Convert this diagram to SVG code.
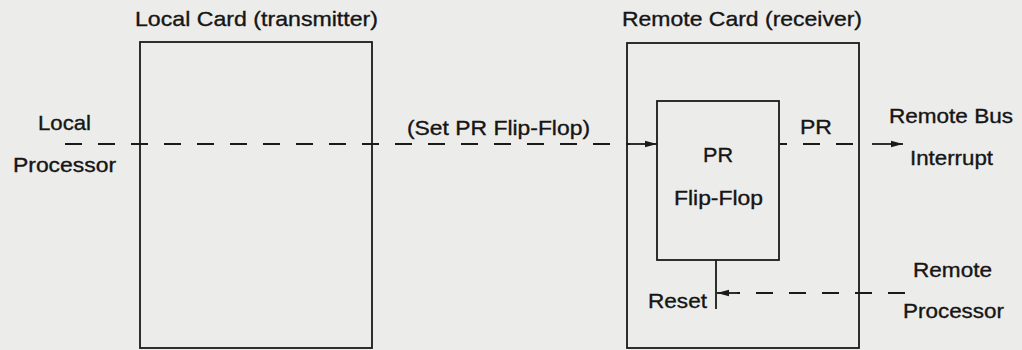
<svg xmlns="http://www.w3.org/2000/svg" width="1022" height="350" viewBox="0 0 1022 350">
<defs>
<style>
.bg{fill:#ececea}
.box{fill:none;stroke:#1a1a1a;stroke-width:1.8}
.t{font-family:"Liberation Sans",Arial,sans-serif;font-size:21px;fill:#151515;stroke:#151515;stroke-width:0.35}
.dash{fill:none;stroke:#1a1a1a;stroke-width:1.8;stroke-dasharray:17 16}
.solid{fill:none;stroke:#1a1a1a;stroke-width:1.8}
</style>
<marker id="ah" viewBox="0 0 12 8" refX="12" refY="4" markerWidth="12" markerHeight="8" markerUnits="userSpaceOnUse" orient="auto">
<path d="M0,0.8 L12,4 L0,7.2 Z" fill="#1a1a1a"/>
</marker>
</defs>
<rect class="bg" x="0" y="0" width="1022" height="350"/>

<g id="local-card">
<rect class="box" x="140" y="42" width="232" height="306"/>
<text class="t" x="135" y="26" textLength="243" lengthAdjust="spacingAndGlyphs">Local Card (transmitter)</text>
</g>

<g id="remote-card">
<rect class="box" x="627" y="43" width="232" height="305"/>
<text class="t" x="622" y="26" textLength="240" lengthAdjust="spacingAndGlyphs">Remote Card (receiver)</text>
</g>

<g id="pr-flipflop">
<rect class="box" x="657" y="101" width="122" height="159"/>
<text class="t" x="703" y="162" textLength="30" lengthAdjust="spacingAndGlyphs">PR</text>
<text class="t" x="674" y="205" textLength="89" lengthAdjust="spacingAndGlyphs">Flip-Flop</text>
</g>

<g id="local-processor">
<text class="t" x="38" y="130" textLength="53" lengthAdjust="spacingAndGlyphs">Local</text>
<text class="t" x="13" y="172" textLength="103" lengthAdjust="spacingAndGlyphs">Processor</text>
</g>

<g id="remote-bus-interrupt">
<text class="t" x="889" y="123" textLength="124" lengthAdjust="spacingAndGlyphs">Remote Bus</text>
<text class="t" x="910" y="165" textLength="83" lengthAdjust="spacingAndGlyphs">Interrupt</text>
</g>

<g id="remote-processor">
<text class="t" x="913" y="277" textLength="79" lengthAdjust="spacingAndGlyphs">Remote</text>
<text class="t" x="903" y="318" textLength="101" lengthAdjust="spacingAndGlyphs">Processor</text>
</g>

<g id="connectors">
<line class="dash" x1="65" y1="144" x2="630" y2="144"/>
<line class="solid" x1="630" y1="144" x2="657" y2="144" marker-end="url(#ah)"/>
<text class="t" x="407" y="135" textLength="183" lengthAdjust="spacingAndGlyphs">(Set PR Flip-Flop)</text>

<line class="dash" x1="780" y1="144" x2="860" y2="144" stroke-dashoffset="10"/>
<line class="solid" x1="872" y1="144" x2="903" y2="144" marker-end="url(#ah)"/>
<text class="t" x="800" y="134" textLength="32" lengthAdjust="spacingAndGlyphs">PR</text>

<line class="solid" x1="716" y1="260" x2="716" y2="309"/>
<line class="dash" x1="905" y1="293" x2="737" y2="293"/>
<line class="solid" x1="737" y1="293" x2="717" y2="293" marker-end="url(#ah)"/>
<text class="t" x="648" y="308" textLength="59" lengthAdjust="spacingAndGlyphs">Reset</text>
</g>
</svg>
